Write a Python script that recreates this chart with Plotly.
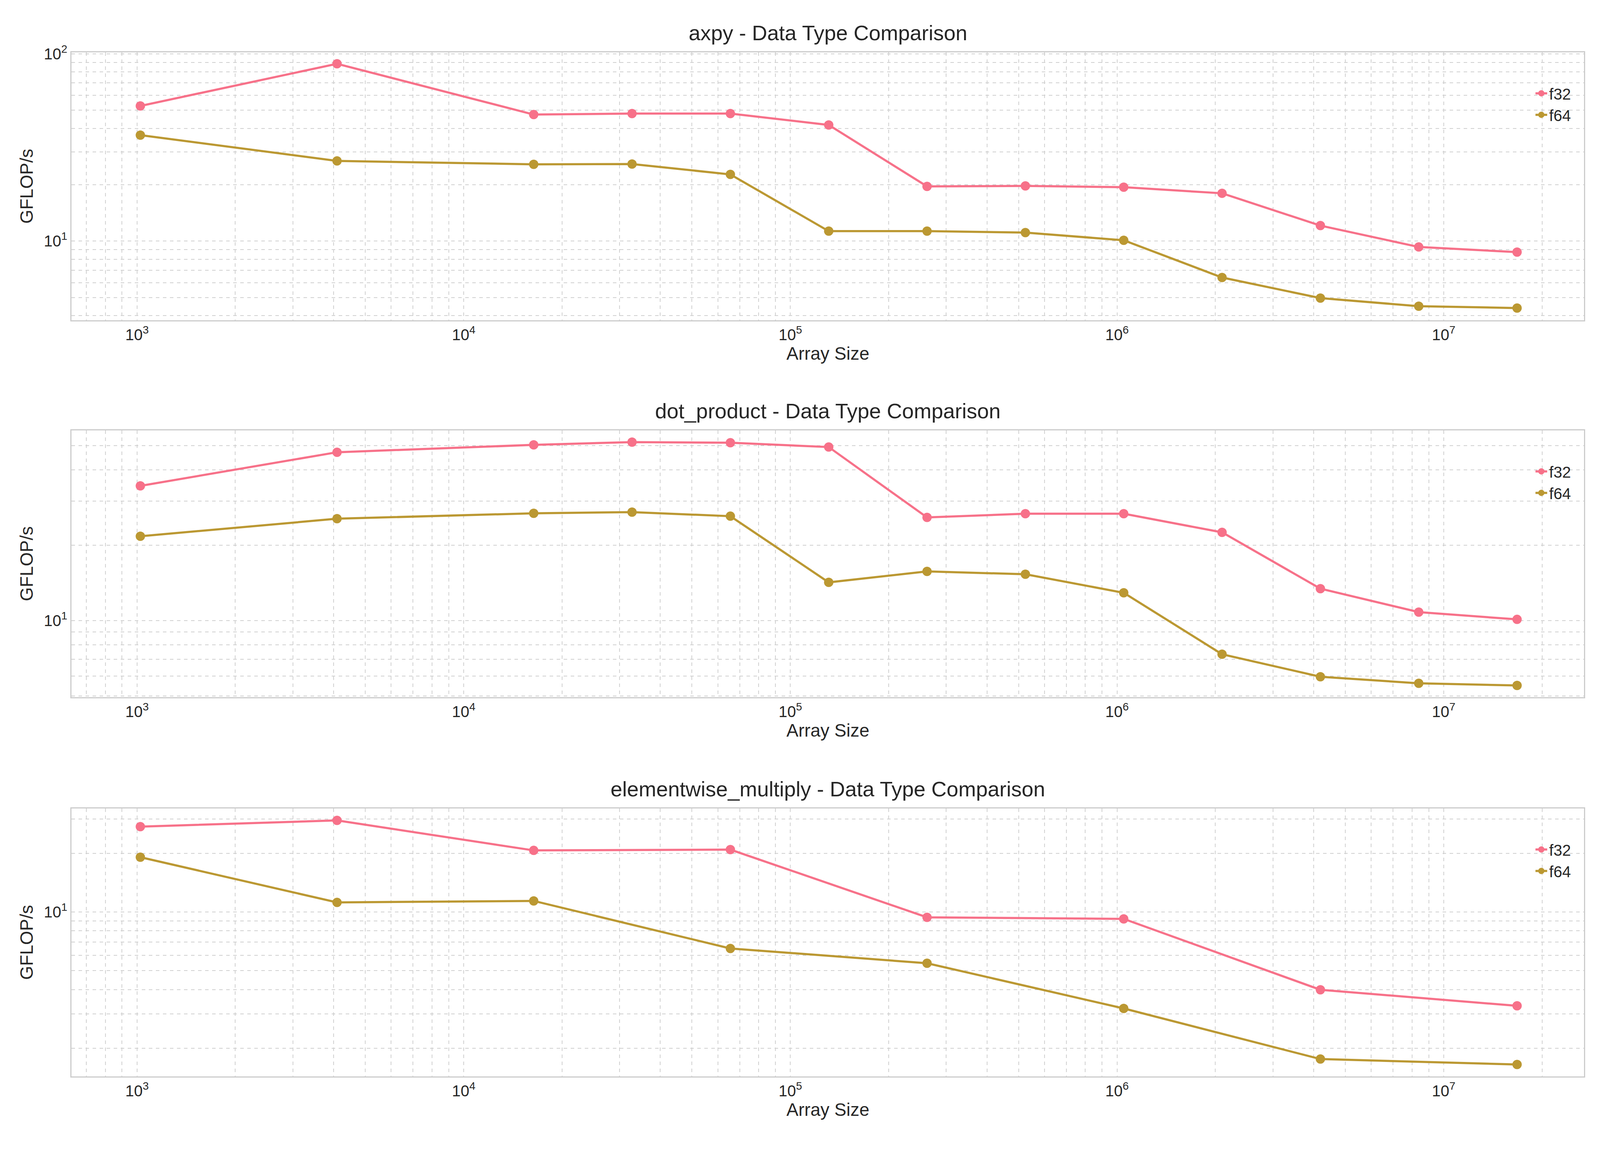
import math
import plotly.graph_objects as go

# data
axpy_sizes = [1024, 4096, 16384, 32768, 65536, 131072, 262144, 524288, 1048576, 2097152, 4194304, 8388608, 16777216]
axpy_f32 = [52.7, 88.5, 47.4, 48.0, 48.0, 41.7, 19.6, 19.7, 19.4, 18.0, 12.1, 9.3, 8.73]
axpy_f64 = [36.8, 26.8, 25.7, 25.8, 22.7, 11.3, 11.3, 11.1, 10.1, 6.39, 4.96, 4.49, 4.39]

dot_sizes = axpy_sizes
dot_f32 = [34.5, 47.0, 50.3, 51.6, 51.3, 49.3, 25.8, 26.7, 26.7, 22.5, 13.4, 10.8, 10.1]
dot_f64 = [21.7, 25.5, 26.8, 27.1, 26.1, 14.2, 15.7, 15.3, 12.9, 7.33, 5.96, 5.61, 5.50]

mul_sizes = [1024, 4096, 16384, 65536, 262144, 1048576, 4194304, 16777216]
mul_f32 = [27.4, 29.5, 20.7, 20.9, 9.39, 9.22, 3.99, 3.30]
mul_f64 = [19.1, 11.2, 11.4, 6.50, 5.46, 3.20, 1.76, 1.65]

x_tickvals = [1e3, 1e4, 1e5, 1e6, 1e7]
x_ticktext = ["10<sup>3</sup>", "10<sup>4</sup>", "10<sup>5</sup>", "10<sup>6</sup>", "10<sup>7</sup>"]
y_tickvals = [10, 100]
y_ticktext = ["10<sup>1</sup>", "10<sup>2</sup>"]

panels = [
    ("axpy", axpy_sizes, axpy_f32, axpy_f64, [0.729, 0.965], [3.78, 102]),
    ("dot_product", dot_sizes, dot_f32, dot_f64, [0.397, 0.632], [4.94, 57.5]),
    ("elementwise_multiply", mul_sizes, mul_f32, mul_f64, [0.063, 0.299], [1.435, 34]),
]

C32 = "#f77189"
C64 = "#bb9832"
GRID = "#d0d0d0"
TXT = "#262626"
FONT = "Liberation Sans, Arial, sans-serif"

fig = go.Figure()
annotations = []

for i, (name, sizes, f32, f64, dom, yr) in enumerate(panels):
    n = i + 1
    sfx = "" if n == 1 else str(n)
    leg = "legend" if n == 1 else f"legend{n}"
    for label, vals, col in [("f32", f32, C32), ("f64", f64, C64)]:
        fig.add_trace(go.Scatter(
            x=sizes, y=vals, name=label, mode="lines+markers",
            line=dict(color=col, width=5.5), marker=dict(color=col, size=24),
            xaxis="x" + sfx, yaxis="y" + sfx, legend=leg))
    axis_common = dict(
        type="log", showline=True, linecolor="#cccccc", linewidth=3, mirror=True,
        showgrid=True, gridcolor=GRID, gridwidth=2, griddash="dash",
        ticks="", zeroline=False,
        tickfont=dict(size=40, color=TXT, family=FONT),
        minor=dict(dtick="D1", showgrid=True, gridcolor=GRID, gridwidth=2, griddash="dash", ticks=""),
    )
    fig.layout["xaxis" + sfx] = dict(
        axis_common, domain=[0.043, 0.992], anchor="y" + sfx,
        range=[2.80, 7.43], tickmode="array", tickvals=x_tickvals, ticktext=x_ticktext,
        title=dict(text="Array Size", font=dict(size=46, color=TXT, family=FONT), standoff=10))
    fig.layout["yaxis" + sfx] = dict(
        axis_common, domain=dom, anchor="x" + sfx,
        range=[math.log10(yr[0]), math.log10(yr[1])],
        tickmode="array", tickvals=y_tickvals, ticktext=y_ticktext,
        title=dict(text="GFLOP/s", font=dict(size=46, color=TXT, family=FONT), standoff=14))
    fig.layout[leg] = dict(
        x=0.985, y=dom[1] - 0.025, xanchor="right", yanchor="top",
        font=dict(size=40, color=TXT, family=FONT), bgcolor="rgba(0,0,0,0)")
    annotations.append(dict(
        text=f"{name} - Data Type Comparison", x=0.5175, y=dom[1] + 0.006,
        xref="paper", yref="paper", xanchor="center", yanchor="bottom", showarrow=False,
        font=dict(size=54, color=TXT, family=FONT)))

fig.update_layout(
    margin=dict(l=0, r=0, t=0, b=0),
    paper_bgcolor="white", plot_bgcolor="white",
    annotations=annotations, showlegend=True,
)

fig.write_html("out.html")
